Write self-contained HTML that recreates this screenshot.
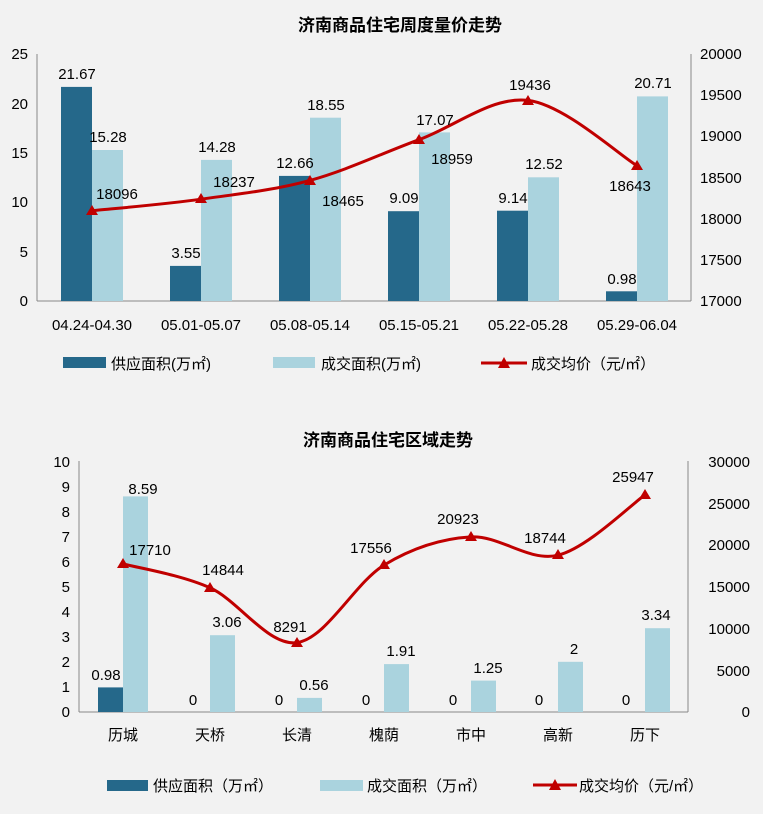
<!DOCTYPE html>
<html><head><meta charset="utf-8"><style>
html,body{margin:0;padding:0;background:#f2f2f2;}
svg{display:block;}
text{font-family:"Liberation Sans","Noto Sans CJK SC",sans-serif;fill:#000;}
.t{font-size:15px;}
.l{font-size:15px;}
.h{font-size:17px;font-weight:bold;}
</style></head><body>
<svg width="763" height="814" viewBox="0 0 763 814">
<rect width="763" height="814" fill="#f2f2f2"/>
<!-- Chart 1 -->
<text class="h" x="400" y="31" text-anchor="middle">济南商品住宅周度量价走势</text>
<g stroke="#888" stroke-width="1">
<line x1="37" y1="54" x2="37" y2="301"/>
<line x1="37" y1="301" x2="691" y2="301"/>
<line x1="691" y1="54" x2="691" y2="301"/>
</g>
<g class="t" text-anchor="end">
<text x="28" y="59">25</text><text x="28" y="109">20</text><text x="28" y="158">15</text><text x="28" y="207">10</text><text x="28" y="257">5</text><text x="28" y="306">0</text>
</g>
<g class="t" text-anchor="start">
<text x="700" y="59">20000</text><text x="700" y="100">19500</text><text x="700" y="141">19000</text><text x="700" y="183">18500</text><text x="700" y="224">18000</text><text x="700" y="265">17500</text><text x="700" y="306">17000</text>
</g>
<g class="t" text-anchor="middle">
<text x="92" y="330">04.24-04.30</text><text x="201" y="330">05.01-05.07</text><text x="310" y="330">05.08-05.14</text><text x="419" y="330">05.15-05.21</text><text x="528" y="330">05.22-05.28</text><text x="637" y="330">05.29-06.04</text>
</g>
<g fill="#25688a">
<rect x="61" y="86.9" width="31" height="214.1"/><rect x="170" y="265.9" width="31" height="35.1"/><rect x="279" y="175.9" width="31" height="125.1"/><rect x="388" y="211.2" width="31" height="89.8"/><rect x="497" y="210.7" width="31" height="90.3"/><rect x="606" y="291.3" width="31" height="9.7"/>
</g>
<g fill="#aad3de">
<rect x="92" y="150" width="31" height="151"/><rect x="201" y="159.9" width="31" height="141.1"/><rect x="310" y="117.7" width="31" height="183.3"/><rect x="419" y="132.4" width="31" height="168.6"/><rect x="528" y="177.3" width="31" height="123.7"/><rect x="637" y="96.4" width="31" height="204.6"/>
</g>
<path d="M92,210.8 C110.2,208.9 164.7,204.3 201,199.2 C237.3,194.1 273.7,190.3 310,180.4 C346.3,170.5 382.7,153 419,139.7 C455.3,126.4 491.7,96.1 528,100.4 C564.3,104.7 618.8,154.8 637,165.7" fill="none" stroke="#c00000" stroke-width="3"/>
<g fill="#c00000">
<polygon points="92,205 86,215 98,215"/><polygon points="201,193 195,203 207,203"/><polygon points="310,175 304,185 316,185"/><polygon points="419,134 413,144 425,144"/><polygon points="528,95 522,105 534,105"/><polygon points="637,160 631,170 643,170"/>
</g>
<g class="t" text-anchor="middle">
<text x="77" y="79">21.67</text><text x="108" y="142">15.28</text><text x="186" y="258">3.55</text><text x="217" y="152">14.28</text><text x="295" y="168">12.66</text><text x="326" y="110">18.55</text><text x="404" y="203">9.09</text><text x="435" y="125">17.07</text><text x="513" y="203">9.14</text><text x="544" y="169">12.52</text><text x="622" y="284">0.98</text><text x="653" y="88">20.71</text>
<text x="117" y="199">18096</text><text x="234" y="187">18237</text><text x="343" y="206">18465</text><text x="452" y="164">18959</text><text x="530" y="90">19436</text><text x="630" y="191">18643</text>
</g>
<rect x="63" y="357" width="43" height="11" fill="#25688a"/>
<text class="l" x="111" y="369">供应面积(万㎡)</text>
<rect x="273" y="357" width="42" height="11" fill="#aad3de"/>
<text class="l" x="321" y="369">成交面积(万㎡)</text>
<line x1="481" y1="363" x2="527" y2="363" stroke="#c00000" stroke-width="3"/>
<polygon points="504,357 498,368 510,368" fill="#c00000"/>
<text class="l" x="531" y="369">成交均价（元/㎡）</text>

<!-- Chart 2 -->
<text class="h" x="388" y="446" text-anchor="middle">济南商品住宅区域走势</text>
<g stroke="#888" stroke-width="1">
<line x1="79" y1="461" x2="79" y2="712"/>
<line x1="79" y1="712" x2="688" y2="712"/>
<line x1="688" y1="461" x2="688" y2="712"/>
</g>
<g class="t" text-anchor="end">
<text x="70" y="467">10</text><text x="70" y="492">9</text><text x="70" y="517">8</text><text x="70" y="542">7</text><text x="70" y="567">6</text><text x="70" y="592">5</text><text x="70" y="617">4</text><text x="70" y="642">3</text><text x="70" y="667">2</text><text x="70" y="692">1</text><text x="70" y="717">0</text>
</g>
<g class="t" text-anchor="end">
<text x="750" y="467">30000</text><text x="750" y="509">25000</text><text x="750" y="550">20000</text><text x="750" y="592">15000</text><text x="750" y="634">10000</text><text x="750" y="676">5000</text><text x="750" y="717">0</text>
</g>
<g class="t" text-anchor="middle">
<text x="123" y="740">历城</text><text x="210" y="740">天桥</text><text x="297" y="740">长清</text><text x="384" y="740">槐荫</text><text x="471" y="740">市中</text><text x="558" y="740">高新</text><text x="645" y="740">历下</text>
</g>
<rect x="98" y="687.4" width="25" height="24.6" fill="#25688a"/>
<g fill="#aad3de">
<rect x="123" y="496.4" width="25" height="215.6"/><rect x="210" y="635.2" width="25" height="76.8"/><rect x="297" y="697.9" width="25" height="14.1"/><rect x="384" y="664.1" width="25" height="47.9"/><rect x="471" y="680.6" width="25" height="31.4"/><rect x="558" y="661.8" width="25" height="50.2"/><rect x="645" y="628.2" width="25" height="83.8"/>
</g>
<path d="M123,563.8 C137.5,567.8 181,574.7 210,587.8 C239,600.9 268,646.4 297,642.6 C326,638.8 355,582.7 384,565.1 C413,547.5 442,538.6 471,536.9 C500,535.3 529,562.2 558,555.2 C587,548.2 630.5,505 645,494.9" fill="none" stroke="#c00000" stroke-width="3"/>
<g fill="#c00000">
<polygon points="123,558 117,568 129,568"/><polygon points="210,582 204,592 216,592"/><polygon points="297,637 291,647 303,647"/><polygon points="384,559 378,569 390,569"/><polygon points="471,531 465,541 477,541"/><polygon points="558,549 552,559 564,559"/><polygon points="645,489 639,499 651,499"/>
</g>
<g class="t" text-anchor="middle">
<text x="106" y="680">0.98</text><text x="143" y="494">8.59</text><text x="227" y="627">3.06</text><text x="314" y="690">0.56</text><text x="401" y="656">1.91</text><text x="488" y="673">1.25</text><text x="574" y="654">2</text><text x="656" y="620">3.34</text>
<text x="193" y="705">0</text><text x="279" y="705">0</text><text x="366" y="705">0</text><text x="453" y="705">0</text><text x="539" y="705">0</text><text x="626" y="705">0</text>
<text x="150" y="555">17710</text><text x="223" y="575">14844</text><text x="290" y="632">8291</text><text x="371" y="553">17556</text><text x="458" y="524">20923</text><text x="545" y="543">18744</text><text x="633" y="482">25947</text>
</g>
<rect x="107" y="780" width="41" height="11" fill="#25688a"/>
<text class="l" x="153" y="791">供应面积（万㎡）</text>
<rect x="320" y="780" width="43" height="11" fill="#aad3de"/>
<text class="l" x="367" y="791">成交面积（万㎡）</text>
<line x1="533" y1="785" x2="577" y2="785" stroke="#c00000" stroke-width="3"/>
<polygon points="555,779 549,790 561,790" fill="#c00000"/>
<text class="l" x="579" y="791">成交均价（元/㎡）</text>
</svg>
</body></html>
